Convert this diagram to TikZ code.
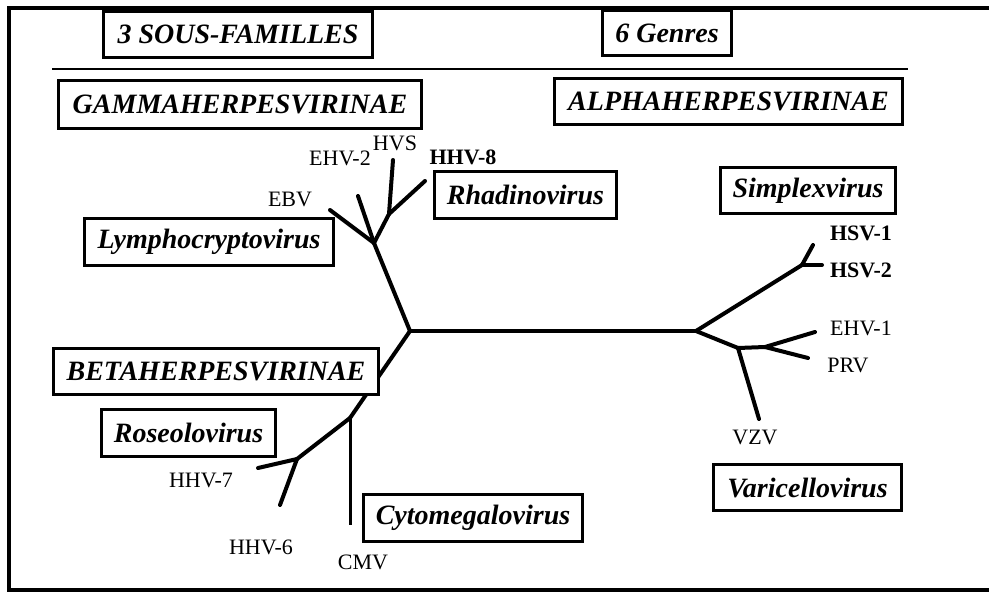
\documentclass[tikz,border=0pt]{standalone}
\usepackage{fontspec}
\setmainfont{Liberation Serif}
\begin{document}
\begin{tikzpicture}[x=1pt,y=-1pt,
  titlebox/.style={draw,line width=3pt,fill=white,inner sep=0pt,
    font=\fontsize{28}{30}\selectfont\bfseries\itshape},
  lbl/.style={inner sep=0pt,font=\fontsize{22}{24}\selectfont},
  lblb/.style={inner sep=0pt,font=\fontsize{22}{24}\selectfont\bfseries},
  branch/.style={line width=4pt,line cap=round,line join=round}]
\useasboundingbox (0,0) rectangle (989,592);
% outer frame (right side runs off the picture)
\draw[line width=4pt] (989,8) -- (9,8) -- (9,590) -- (989,590);
% separator
\coordinate (sepL) at (52,69);
\coordinate (sepR) at (908,69);
\draw[line width=2pt] (sepL) -- (sepR);
% tree coordinates
\coordinate (O) at (410,331);
\coordinate (E) at (696,331);
\coordinate (A) at (374,243);
\coordinate (tEBV) at (330,210);
\coordinate (tEHV2) at (358,196);
\coordinate (B) at (389,214);
\coordinate (tHVS) at (393,160);
\coordinate (tHHV8) at (425,181);
\coordinate (C) at (350,418);
\coordinate (tCMV) at (350,525);
\coordinate (D) at (297,459);
\coordinate (tHHV7) at (258,468);
\coordinate (tHHV6) at (280,505);
\coordinate (F) at (802,265);
\coordinate (tHSV1) at (813,245);
\coordinate (tHSV2) at (822,265);
\coordinate (G) at (738,348);
\coordinate (H) at (765,347);
\coordinate (tEHV1) at (815,332);
\coordinate (tPRV) at (808,358);
\coordinate (tVZV) at (759,419);
% tree branches
\draw[branch] (O) -- (E);
\draw[branch] (O) -- (A);
\draw[branch] (A) -- (tEBV);
\draw[branch] (A) -- (tEHV2);
\draw[branch] (A) -- (B);
\draw[branch] (B) -- (tHVS);
\draw[branch] (B) -- (tHHV8);
\draw[branch] (O) -- (C);
\draw[line width=3pt] (C) -- (tCMV);
\draw[branch] (C) -- (D);
\draw[branch] (D) -- (tHHV7);
\draw[branch] (D) -- (tHHV6);
\draw[branch] (E) -- (F);
\draw[branch] (F) -- (tHSV1);
\draw[branch] (F) -- (tHSV2);
\draw[branch] (E) -- (G);
\draw[branch] (G) -- (H);
\draw[branch] (H) -- (tEHV1);
\draw[branch] (H) -- (tPRV);
\draw[branch] (G) -- (tVZV);
% title boxes
\node[titlebox,minimum width=269,minimum height=46] (sous) at (238,34.5) {3 SOUS-FAMILLES};
\node[titlebox,minimum width=129,minimum height=45] (genres) at (667,33) {6 Genres};
\node[titlebox,minimum width=363,minimum height=48] (gamma) at (240,104.5) {GAMMAHERPESVIRINAE};
\node[titlebox,minimum width=348,minimum height=46] (alpha) at (728.5,101.5) {ALPHAHERPESVIRINAE};
\node[titlebox,minimum width=182,minimum height=47] (rhadino) at (525.5,195) {Rhadinovirus};
\node[titlebox,minimum width=175,minimum height=46] (simplex) at (808,190.5) {Simplexvirus};
\node[titlebox,minimum width=249,minimum height=47] (lympho) at (209,242) {Lymphocryptovirus};
\node[titlebox,minimum width=325,minimum height=46] (beta) at (216,371.5) {BETAHERPESVIRINAE};
\node[titlebox,minimum width=174,minimum height=47] (roseolo) at (188.5,433) {Roseolovirus};
\node[titlebox,minimum width=219,minimum height=47] (cytomegalo) at (473,518) {Cytomegalovirus};
\node[titlebox,minimum width=188,minimum height=46] (varicello) at (807.5,487.5) {Varicellovirus};
% virus labels
\node[lbl] (EHV2) at (340,158) {EHV-2};
\node[lbl] (HVS) at (395,143) {HVS};
\node[lblb] (HHV8) at (463,157) {HHV-8};
\node[lbl] (EBV) at (290,199) {EBV};
\node[lblb] (HSV1) at (861,233) {HSV-1};
\node[lblb] (HSV2) at (861,270) {HSV-2};
\node[lbl] (EHV1) at (861,328) {EHV-1};
\node[lbl] (PRV) at (848,365) {PRV};
\node[lbl] (VZV) at (755,437) {VZV};
\node[lbl] (HHV7) at (201,480) {HHV-7};
\node[lbl] (HHV6) at (261,547) {HHV-6};
\node[lbl] (CMV) at (363,562) {CMV};
\end{tikzpicture}
\end{document}
